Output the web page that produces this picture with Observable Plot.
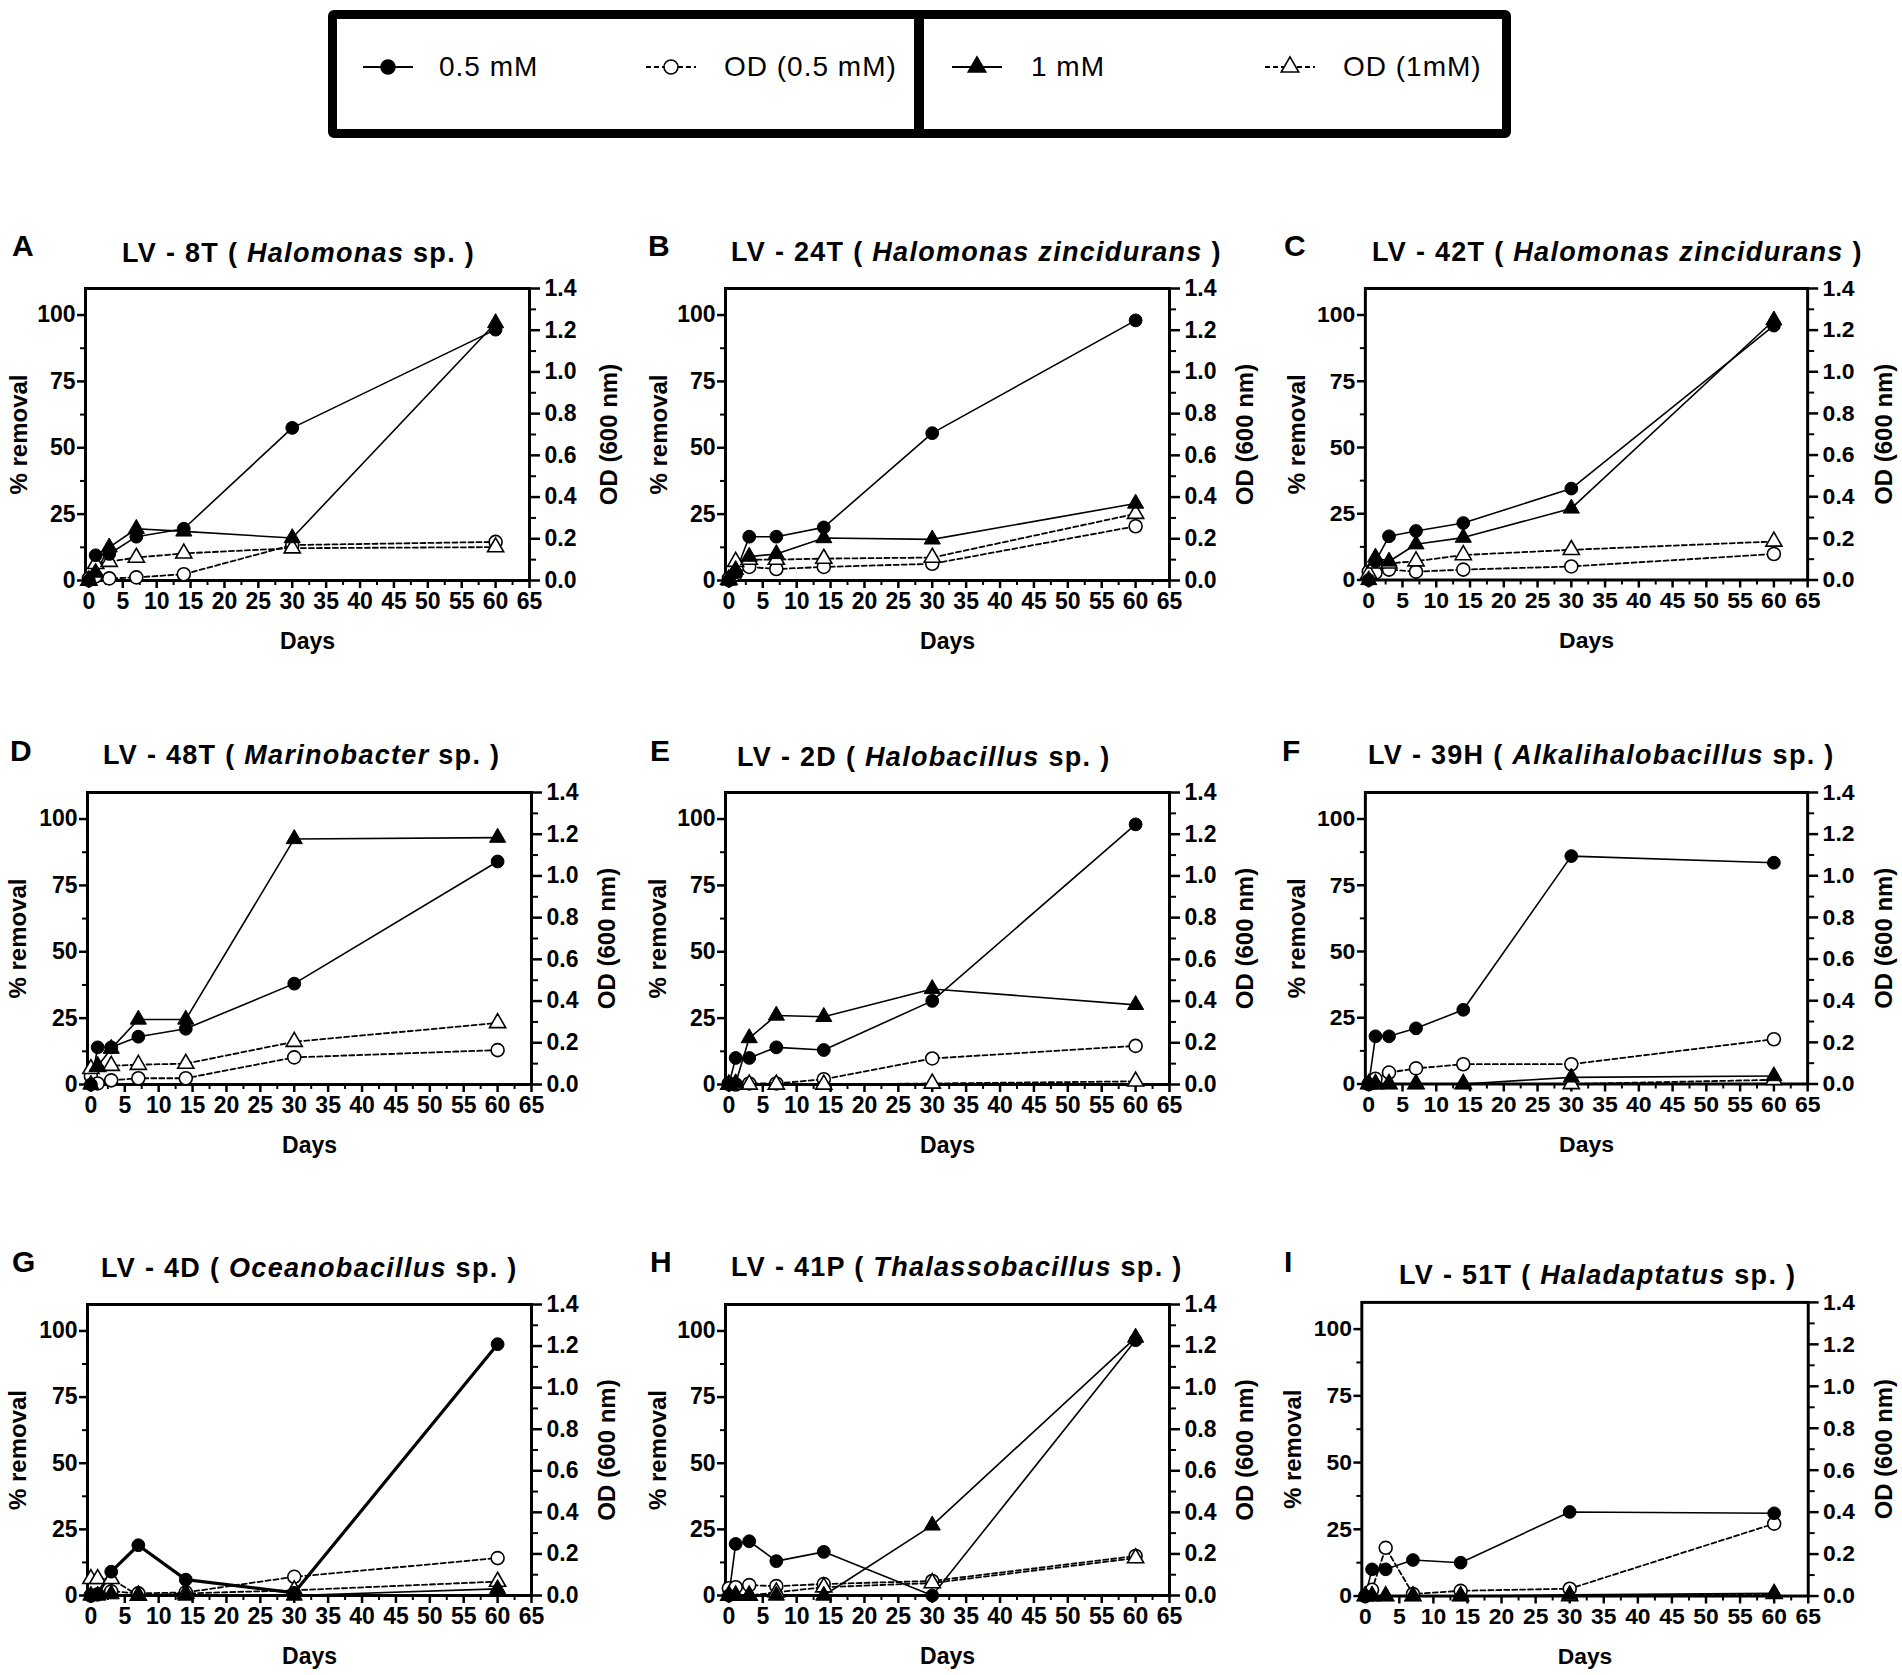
<!DOCTYPE html>
<html><head><meta charset="utf-8">
<script src="https://cdn.jsdelivr.net/npm/d3@7"></script>
<script src="https://cdn.jsdelivr.net/npm/@observablehq/plot@0.6"></script>
<style>
html,body{margin:0;padding:0;background:#fff;}
body{width:1902px;height:1675px;position:relative;overflow:hidden;font-family:"Liberation Sans",Arial,sans-serif;color:#000;}
.abs{position:absolute;white-space:nowrap;}
.letter{font-weight:bold;font-size:30px;line-height:30px;}
.title{font-weight:bold;font-size:27px;line-height:27px;letter-spacing:1.3px;}
.legtext{font-size:28px;line-height:28px;letter-spacing:1px;}
#legend{position:absolute;left:328px;top:10px;width:1183px;height:128px;border:9px solid #000;box-sizing:border-box;border-radius:6px;}
#divider{position:absolute;left:914px;top:10px;width:10px;height:128px;background:#000;}
</style></head><body>
<div id="legend"></div><div id="divider"></div>
<script>
// ---------- data ----------
const days = [0, 1, 3, 7, 14, 30, 60];
const panelLetters = ["A","B","C","D","E","F","G","H","I"];
const strainNames = ["LV - 8T","LV - 24T","LV - 42T","LV - 48T","LV - 2D","LV - 39H","LV - 4D","LV - 41P","LV - 51T"];
const speciesNames = ["Halomonas","Halomonas zincidurans","Halomonas zincidurans","Marinobacter","Halobacillus","Alkalihalobacillus","Oceanobacillus","Thalassobacillus","Haladaptatus"];
const speciesSuffix = [" sp.","","", " sp."," sp."," sp."," sp."," sp."," sp."];
const seriesNames = ["0.5 mM","OD (0.5 mM)","1 mM","OD (1mM)"];

// % removal, 0.5 mM (filled circles)
const removal05 = [
  [0, 9.5, 10, 16.5, 19.5, 57.5, 94.5],
  [0, 3, 16.5, 16.5, 20, 55.5, 98],
  [0, 7, 16.5, 18.5, 21.5, 34.5, 96],
  [0, 14, 14, 18, 21, 38, 84],
  [0, 10, 10, 14, 13, 31.5, 98],
  [0, 18, 18, 21, 28, 86, 83.5],
  [0, 0.5, 9, 19, 6, 1, 95],
  [0, 19.5, 20.5, 13, 16.5, 0, 96.5],
  [0, 10, 10, 13.5, 12.5, 31.5, 31]
];
// % removal, 1 mM (filled triangles)
const removal1 = [
  [0, 3, 12.5, 19.5, 18.5, 16, 97],
  [0, 4, 9, 10, 16, 15.5, 29],
  [0, 8.5, 7, 13.5, 16, 27, 98],
  [0, 7, 13.5, 24.5, 24.5, 92.5, 93],
  [0, 0.5, 17.5, 26, 25.5, 36, 30],
  [0, 0, 0, 0, 0, 2.5, 3],
  [0, 0, 0.5, 0, 0, 0, 2.5],
  [0, 0, 0, 0, 0, 26.5, 97.5],
  [0, 0, 0, 0, 0, 0.5, 1]
];
// OD 600 nm, 0.5 mM (open circles)
const od05 = [
  [0.01, 0.02, 0.01, 0.015, 0.03, 0.17, 0.185],
  [0.01, 0.03, 0.065, 0.055, 0.065, 0.08, 0.26],
  [0.04, 0.035, 0.05, 0.04, 0.05, 0.065, 0.125],
  [0.04, 0.005, 0.02, 0.03, 0.03, 0.13, 0.165],
  [0.005, 0, 0.005, 0.005, 0.025, 0.125, 0.185],
  [0, 0.025, 0.055, 0.075, 0.095, 0.095, 0.215],
  [0, 0.005, 0.02, 0.01, 0.015, 0.09, 0.18],
  [0.035, 0.04, 0.05, 0.045, 0.055, 0.07, 0.19],
  [0, 0.03, 0.23, 0.01, 0.025, 0.035, 0.345]
];
// OD 600 nm, 1 mM (open triangles)
const od1 = [
  [0, 0.08, 0.09, 0.11, 0.13, 0.155, 0.16],
  [0.005, 0.09, 0.1, 0.1, 0.105, 0.11, 0.32],
  [0.03, 0.08, 0.08, 0.09, 0.12, 0.145, 0.185],
  [0.075, 0.085, 0.09, 0.095, 0.1, 0.205, 0.295],
  [0, 0, 0, 0, 0, 0.005, 0.015],
  [0, 0, 0, 0, 0, 0, 0.02],
  [0.08, 0.08, 0.08, 0, 0.01, 0.025, 0.067],
  [0, 0, 0, 0.015, 0.04, 0.06, 0.18],
  [0, 0, 0, 0, 0, 0, 0.01]
];
const dayTicks = [0,5,10,15,20,25,30,35,40,45,50,55,60,65];
const dayMinor = [2.5,7.5,12.5,17.5,22.5,27.5,32.5,37.5,42.5,47.5,52.5,57.5,62.5];
const removalTicks = [0,25,50,75,100];
const removalMinor = [12.5,37.5,62.5,87.5];
const odTicks = [0,0.2,0.4,0.6,0.8,1.0,1.2,1.4];
const odMinor = [0.1,0.3,0.5,0.7,0.9,1.1,1.3];

// ---------- layout ----------
const frameLeft = [85,725,1365,87,725,1365,87,725,1362];
const frameTop  = [288,288,288,792,792,792,1304,1304,1302];
const frameW    = [444,444,443,444,444,443,444,444,450];
const frameH    = [292,292,292,292,292,292,291,291,296];
const titleX    = [122,731,1372,103,737,1368,101,731,1399];
const titleBase = [263,262,262,765,767,765,1278,1277,1285];
const letterX   = [12,648,1284,10,650,1282,12,650,1284];
const letterBase= [256,256,256,761,761,761,1272,1272,1272];
const leftLabelDx  = [-66,-66,-68,-69,-67,-68,-69,-67,-69];
const rightLabelDx = [80,76,77,76,76,77,76,76,77];

const k = 110 / 1.4; // OD -> % removal axis
const ML = 85, MR = 95, MT = 12, MB = 80;

function addDiv(cls, x, top, html){
  const d = document.createElement("div");
  d.className = "abs " + cls;
  d.style.left = x + "px"; d.style.top = top + "px";
  d.innerHTML = html;
  document.body.appendChild(d);
  return d;
}

for (let i = 0; i < 9; i++) {
  const rows = days.map((d, j) => ({day: d, r05: removal05[i][j], r1: removal1[i][j], o05: od05[i][j] * k, o1: od1[i][j] * k}));
  const w05 = i === 6 ? 3.2 : 1.6;
  const plot = Plot.plot({
    width: ML + frameW[i] + MR, height: MT + frameH[i] + MB,
    marginLeft: ML, marginRight: MR, marginTop: MT, marginBottom: MB,
    x: {domain: [-0.5, 65]},
    y: {domain: [0, 110]},
    style: {fontFamily: '"Liberation Sans", Arial, sans-serif', fontWeight: "bold", fontSize: "23px", color: "#000", background: "transparent", overflow: "visible"},
    marks: [
      Plot.axisX({ticks: dayMinor, tickSize: 5, strokeWidth: 2, tickFormat: () => "", label: null}),
      Plot.axisX({ticks: dayTicks, tickSize: 8, strokeWidth: 2.5, tickPadding: 4, tickFormat: d => String(d), label: null, fontSize: 23}),
      Plot.axisY({ticks: removalMinor, anchor: "left", tickSize: 5, strokeWidth: 2, tickFormat: () => "", label: null}),
      Plot.axisY({ticks: removalTicks, anchor: "left", tickSize: 8, strokeWidth: 2.5, tickPadding: 2, tickFormat: d => String(d), label: null, fontSize: 23}),
      Plot.axisY({ticks: odMinor.map(v => v * k), anchor: "right", tickSize: 6, strokeWidth: 2, tickFormat: () => "", label: null}),
      Plot.axisY({ticks: odTicks.map(v => v * k), anchor: "right", tickSize: 10, strokeWidth: 2.5, tickPadding: 5, tickFormat: d => (d / k).toFixed(1), label: null, fontSize: 23}),
      Plot.frame({strokeWidth: 3}),
      Plot.text(["% removal"], {text: d => d, frameAnchor: "left", textAnchor: "middle", lineAnchor: "middle", rotate: -90, dx: leftLabelDx[i], fontSize: 24}),
      Plot.text(["OD (600 nm)"], {text: d => d, frameAnchor: "right", textAnchor: "middle", lineAnchor: "middle", rotate: -90, dx: rightLabelDx[i], fontSize: 24}),
      Plot.text(["Days"], {text: d => d, frameAnchor: "bottom", textAnchor: "middle", lineAnchor: "middle", dy: 61, fontSize: 23}),
      Plot.line(rows, {x: "day", y: "o05", stroke: "#000", strokeWidth: 1.8, strokeDasharray: "5,3"}),
      Plot.line(rows, {x: "day", y: "o1", stroke: "#000", strokeWidth: 1.8, strokeDasharray: "5,3"}),
      Plot.line(rows, {x: "day", y: "r1", stroke: "#000", strokeWidth: 1.6}),
      Plot.line(rows, {x: "day", y: "r05", stroke: "#000", strokeWidth: w05}),
      Plot.dot(rows, {x: "day", y: "o05", r: 6.5, symbol: "circle", fill: "#fff", stroke: "#000", strokeWidth: 1.6}),
      Plot.dot(rows, {x: "day", y: "o1", r: 6, symbol: "triangle", fill: "#fff", stroke: "#000", strokeWidth: 1.6}),
      Plot.dot(rows, {x: "day", y: "r1", r: 6, symbol: "triangle", fill: "#000", stroke: "#000", strokeWidth: 1}),
      Plot.dot(rows, {x: "day", y: "r05", r: 6.4, symbol: "circle", fill: "#000", stroke: "#000", strokeWidth: 1})
    ]
  });
  const holder = addDiv("", frameLeft[i] - ML, frameTop[i] - MT, "");
  holder.appendChild(plot);
  addDiv("title", titleX[i], titleBase[i] - 23, `${strainNames[i]} ( <i>${speciesNames[i]}</i>${speciesSuffix[i]} )`);
  addDiv("letter", letterX[i], letterBase[i] - 25, panelLetters[i]);
}

// ---------- legend ----------
const legendMarkX = [388, 671, 977, 1290];
const legendTextX = [439, 724, 1031, 1343];
const legendSym = ["circle", "circle", "triangle", "triangle"];
const legendFill = ["#000", "#fff", "#000", "#fff"];
const legendDash = [null, "5,3", null, "5,3"];
for (let s = 0; s < 4; s++) {
  const cx = legendMarkX[s], cy = 67;
  const svg = d3.create("svg").attr("width", 70).attr("height", 30)
    .style("position", "absolute").style("left", (cx - 35) + "px").style("top", (cy - 15) + "px");
  svg.append("line").attr("x1", 10).attr("x2", 60).attr("y1", 15).attr("y2", 15)
    .attr("stroke", "#000").attr("stroke-width", 2).attr("stroke-dasharray", legendDash[s]);
  const sym = d3.symbol(legendSym[s] === "circle" ? d3.symbolCircle : d3.symbolTriangle, legendSym[s] === "circle" ? Math.PI * 49 : Math.PI * 42)();
  svg.append("path").attr("d", sym).attr("transform", "translate(35,15)")
    .attr("fill", legendFill[s]).attr("stroke", "#000").attr("stroke-width", 1.6);
  document.body.appendChild(svg.node());
  addDiv("legtext", legendTextX[s], 77 - 24, seriesNames[s]);
}
</script>
</body></html>
